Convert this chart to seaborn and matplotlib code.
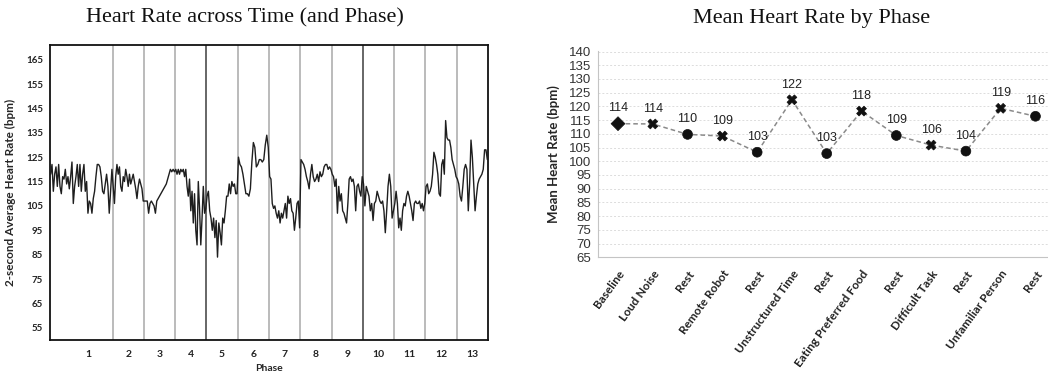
import numpy as np
import pandas as pd
import matplotlib
matplotlib.use("Agg")
import matplotlib.pyplot as plt
import seaborn as sns

# ---------------- data ----------------
phase_numbers = list(range(1, 14))
phase_seconds = [120] + [60] * 12

hr_p1 = [118, 122, 111, 118, 121, 113, 122, 113, 110, 117, 116, 120, 114, 117, 112, 117,
         123, 106, 113, 117, 122, 113, 122, 111, 118, 122, 111, 115, 102, 107, 106, 102,
         108, 111, 117, 122, 122, 121, 117, 111, 110, 114, 118, 113, 102, 111, 120]
hr_p2 = [113, 106, 117, 122, 118, 121, 113, 111, 117, 115, 120, 117, 113, 118, 114, 116,
         118, 115, 112, 108, 113, 116, 114, 112, 107]
hr_p3 = [107, 107, 107, 102, 106, 107, 106, 105, 102, 107, 108, 109, 110, 111, 112, 113,
         114, 116, 118, 120, 119, 120, 119]
hr_p4 = [120, 118, 120, 118, 120, 119, 120, 117, 120, 113, 109, 116, 103, 111, 98, 110,
         95, 89, 115, 104, 89, 100, 113, 102, 104]
hr_p5 = [109, 111, 103, 100, 95, 100, 92, 99, 84, 98, 94, 89, 100, 98, 103, 109, 109,
         114, 110, 115, 113, 114, 110, 110]
hr_p6 = [125, 122, 121, 118, 114, 110, 110, 109, 112, 123, 131, 129, 121, 122, 124, 124,
         123, 124, 130, 134, 129]
hr_p7 = [117, 116, 106, 104, 105, 102, 100, 103, 98, 102, 100, 103, 106, 100, 109, 106,
         108, 103, 102, 95, 100, 106, 107, 96]
hr_p8 = [124, 123, 122, 120, 117, 115, 112, 118, 122, 117, 115, 116, 118, 115, 119, 117,
         118, 121, 122, 122, 120, 121, 120]
hr_p9 = [118, 117, 113, 116, 102, 113, 107, 110, 103, 102, 100, 98, 106, 116, 117, 115,
         116, 113, 103, 113, 114, 111, 109, 117]
hr_p10 = [114, 105, 113, 111, 109, 103, 106, 99, 106, 107, 111, 109, 107, 106, 107, 103,
          94, 103, 113, 118, 113, 100, 103]
hr_p11 = [106, 111, 106, 96, 100, 95, 103, 106, 105, 109, 111, 109, 106, 103, 99, 106,
          107, 106, 106, 107, 104, 106, 103, 106]
hr_p12 = [113, 114, 110, 111, 113, 118, 127, 125, 122, 118, 110, 109, 122, 124, 118, 140,
          133, 132, 132, 129, 124, 122, 120, 117]
hr_p13 = [116, 114, 109, 107, 113, 120, 122, 120, 103, 114, 132, 125, 114, 103, 109, 114,
          116, 117, 118, 120, 128, 128, 124]
hr_by_phase = [hr_p1, hr_p2, hr_p3, hr_p4, hr_p5, hr_p6, hr_p7, hr_p8, hr_p9, hr_p10,
               hr_p11, hr_p12, hr_p13]

phase_names = ["Baseline", "Loud Noise", "Rest", "Remote Robot", "Rest", "Unstructured Time",
               "Rest", "Eating Preferred Food", "Rest", "Difficult Task", "Rest",
               "Unfamiliar Person", "Rest"]
phase_kind = ["Baseline", "Stimulus", "Rest", "Stimulus", "Rest", "Stimulus", "Rest",
              "Stimulus", "Rest", "Stimulus", "Rest", "Stimulus", "Rest"]
mean_hr = [113.7, 113.6, 109.8, 109.2, 103.3, 122.4, 102.8, 118.3, 109.4, 105.9, 103.7,
           119.3, 116.4]

left_yticks = list(range(55, 166, 10))
right_yticks = list(range(65, 141, 5))

# ---------------- build tables ----------------
rows = []
starts = np.concatenate([[0], np.cumsum(phase_seconds)[:-1]])
for num, start, dur, vals in zip(phase_numbers, starts, phase_seconds, hr_by_phase):
    n = len(vals)
    for i, v in enumerate(vals):
        rows.append({"t": start + (i + 0.5) * dur / n, "hr": v, "phase": num})
trace = pd.DataFrame(rows)
centers = starts + np.array(phase_seconds) / 2
centers[0] = starts[0] + phase_seconds[0] * 0.61  # label of long baseline phase sits right of centre
bounds = np.cumsum(phase_seconds)[:-1]

means = pd.DataFrame({"pos": np.arange(len(phase_names)), "name": phase_names,
                      "kind": phase_kind, "hr": mean_hr})

# ---------------- figure ----------------
sns.set_theme(style="white")
plt.rcParams["font.family"] = ["Liberation Sans", "DejaVu Sans"]

fig = plt.figure(figsize=(10.48, 3.76), dpi=100)
W, H = 1048, 376

def ax_rect(x0, y0, x1, y1):
    return [x0 / W, 1 - y1 / H, (x1 - x0) / W, (y1 - y0) / H]

# ----- left panel -----
ax1 = fig.add_axes(ax_rect(50, 45, 488, 340))
for k, b in enumerate(bounds):
    dark = phase_numbers[k] in (4, 9)
    ax1.axvline(b, color="#5a5a5a" if dark else "#a8a8a8", lw=1.3 if dark else 1.1, zorder=1)
sns.lineplot(data=trace, x="t", y="hr", color="#1e1e1e", lw=1.0, ax=ax1, zorder=3)
ax1.set_xlim(0, sum(phase_seconds))
ax1.set_ylim(50, 171)
ax1.set_yticks(left_yticks)
ax1.set_yticklabels([str(v) for v in left_yticks], fontsize=7, fontweight="bold",
                    family="Lato")
ax1.set_xticks(centers)
ax1.set_xticklabels([str(p) for p in phase_numbers], fontsize=7.5, fontweight="bold",
                    family="Lato")
ax1.tick_params(axis="y", length=3, width=0.8, direction="out", pad=2, colors="#222")
ax1.tick_params(axis="x", length=0, pad=7, colors="#222")
for s in ax1.spines.values():
    s.set_color("#111")
    s.set_linewidth(1.3)
ax1.set_xlabel("Phase", fontsize=7.5, fontweight="bold", family="Lato", labelpad=4)
ax1.set_ylabel("2-second Average Heart Rate (bpm)", fontsize=8.5, fontweight="bold",
               family="Lato", labelpad=7)

fig.text(245 / W, 1 - 18 / H, "Heart Rate across Time (and Phase)", ha="center",
         va="center", fontsize=16, family="Liberation Serif", color="#111")

# ----- right panel -----
ax2 = fig.add_axes(ax_rect(598, 50.7, 1048, 257.3))
sns.lineplot(data=means, x="pos", y="hr", color="#8a8a8a", lw=1.1,
             linestyle=(0, (3, 2)), ax=ax2, zorder=2)
sns.scatterplot(data=means, x="pos", y="hr", style="kind",
                markers={"Baseline": "D", "Stimulus": "X", "Rest": "o"},
                color="#111", s=50, edgecolor="#111", linewidth=0.5, legend=False,
                ax=ax2, zorder=3)
for _, r in means.iterrows():
    ax2.annotate(f"{r.hr:.0f}", (r.pos, r.hr), xytext=(0, 11), textcoords="offset points",
                 ha="center", va="center", fontsize=9, color="#222")
ax2.set_xlim(-0.575, 12.36)
ax2.set_ylim(65, 140.3)
ax2.set_yticks(right_yticks)
ax2.set_yticklabels([str(v) for v in right_yticks], fontsize=9.5, color="#333")
ax2.set_xticks(means["pos"])
ax2.set_xticklabels(phase_names, rotation=54, ha="right", rotation_mode="anchor",
                    fontsize=8.5, fontweight="bold", family="Lato", color="#222")
ax2.yaxis.grid(True, color="#dcdcdc", linestyle=(0, (2, 2)), lw=0.7)
ax2.set_axisbelow(True)
for side in ("top", "right"):
    ax2.spines[side].set_visible(False)
for side in ("left", "bottom"):
    ax2.spines[side].set_color("#c4c4c4")
    ax2.spines[side].set_linewidth(0.8)
ax2.tick_params(axis="both", length=3, width=0.7, color="#c4c4c4", direction="out")
ax2.tick_params(axis="y", pad=2)
ax2.tick_params(axis="x", pad=5)
ax2.set_xlabel("")
ax2.set_ylabel("Mean Heart Rate (bpm)", fontsize=9.5, fontweight="bold", family="Lato",
               labelpad=6)

fig.text(811.7 / W, 1 - 18 / H, "Mean Heart Rate by Phase", ha="center", va="center",
         fontsize=16, family="Liberation Serif", color="#111")

fig.savefig("out.png", dpi=100, facecolor="white")
